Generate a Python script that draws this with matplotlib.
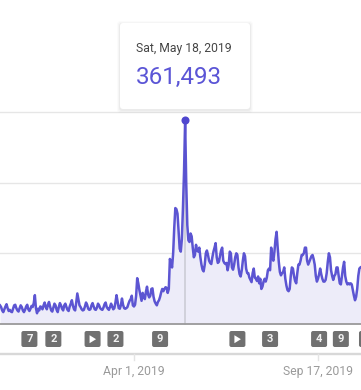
import matplotlib
matplotlib.use("Agg")
import matplotlib.pyplot as plt
import matplotlib.dates as mdates
from matplotlib.patches import FancyBboxPatch
import pandas as pd

visits_k = [
 33,30,24,21,26,31,35,28,23,25,
 22,21,27,33,34,28,24,22,28,33,
 30,24,21,25,31,34,26,23,27,32,
 30,37,51,28,19,27,24,31,30,26,
 33,38,30,26,34,39,31,24,22,29,
 36,33,25,21,30,37,33,27,24,33,
 36,30,25,23,31,36,42,32,26,24,
 38,54,44,33,30,26,24,25,31,38,
 34,27,25,26,33,37,31,26,25,29,
 36,33,28,26,25,29,35,38,30,27,
 25,30,36,31,26,28,38,51,40,28,
 27,33,45,34,28,27,28,30,36,41,
 44,50,33,31,34,50,81,72,60,50,
 41,55,48,44,57,66,52,47,50,62,
 63,48,40,36,33,39,42,48,56,62,
 58,62,65,64,55,62,115,108,100,125,
 170,205,203,195,165,133,128,150,205,270,
 361.493,250,175,148,145,160,155,135,118,122,
 140,130,128,135,118,105,96,93,105,125,
 130,122,112,108,106,118,128,135,143,118,
 108,110,120,130,135,112,108,106,108,95,
 105,128,125,100,96,105,118,125,122,100,
 88,84,95,112,125,120,98,90,90,82,
 78,74,90,98,82,80,76,84,72,80,
 62,66,75,80,75,82,95,98,95,135,
 118,112,128,150,163,135,110,92,86,90,
 92,100,80,68,60,58,62,85,100,98,
 85,76,72,90,105,105,112,122,122,125,
 135,135,112,105,110,115,120,122,115,105,
 85,75,80,88,98,88,80,75,75,78,
 90,110,125,118,95,85,78,85,88,100,
 100,85,72,70,85,100,110,85,75,70,
 72,70,72,70,60,50,42,48,62,85,98,100,
]
start_date = "2018-11-29"
grid_levels_k = [0, 125, 250, 375]
tick_dates = ["2019-04-01", "2019-09-17"]
tick_labels = ["Apr 1, 2019", "Sep 17, 2019"]
peak_date = "2019-05-18"
peak_label = "Sat, May 18, 2019"
peak_value_k = 361.493
peak_text = "361,493"
annotation_dates = ["2018-12-26", "2019-01-17", "2019-02-22", "2019-03-15", "2019-04-25",
                    "2019-07-05", "2019-08-04", "2019-09-18", "2019-10-08", "2019-11-01"]
annotation_marks = ["7", "2", "play", "2", "9", "play", "3", "4", "9", ""]

W, H = 361, 390
LINE = "#4f47cf"
plt.rcParams["font.family"] = ["Roboto", "DejaVu Sans"]
dates = pd.date_range(start_date, periods=len(visits_k), freq="D")

fig = plt.figure(figsize=(W / 100, H / 100), dpi=100, facecolor="white")
ax = fig.add_axes([0, 0, 1, 1])
ax.set_axis_off()
px_per_day = 1.089
k_per_px = 125 / 70.7
x0 = mdates.date2num(pd.Timestamp(start_date))
ax.set_xlim(x0, x0 + W / px_per_day)
ax.set_ylim(-(H - 324) * k_per_px, 324 * k_per_px)

for i, g in enumerate(grid_levels_k):
    ax.axhline(g, color="#9a9a9a" if g == 0 else "#e6e6e6", lw=1.3 if g == 0 else 1.0, zorder=1 if g else 5)
ax.fill_between(mdates.date2num(dates), visits_k, 0, color="#edecf9", lw=0, zorder=2)
peak_x = mdates.date2num(pd.Timestamp(peak_date))
ax.plot([peak_x, peak_x], [0, peak_value_k], color="#c9c9d2", lw=1.1, zorder=3)
ax.plot(mdates.date2num(dates), visits_k, color=LINE, lw=1.8, alpha=0.92, zorder=4, solid_joinstyle="round")
ax.plot([peak_x], [peak_value_k], "o", ms=5.8, color=LINE, mew=0, zorder=6)

# Pixel overlay for the chrome
ov = fig.add_axes([0, 0, 1, 1], facecolor="none")
ov.set_axis_off()
ov.set_xlim(0, W)
ov.set_ylim(H, 0)

px = lambda d: (mdates.date2num(pd.Timestamp(d)) - x0) * px_per_day

# x axis band and ticks
ov.plot([0, W], [354, 354], color="#d8d8d8", lw=1.7, solid_capstyle="butt")
for d, lab in zip(tick_dates, tick_labels):
    x = px(d)
    ov.plot([x, x], [354, 360], color="#e4e4e4", lw=1.0)
    ov.text(x, 371, lab, ha="center", va="center", fontsize=8.7, color="#9a9a9a")

# annotation chips
for d, m in zip(annotation_dates, annotation_marks):
    x = px(d)
    ov.add_patch(FancyBboxPatch((x - 7, 332), 14, 14, boxstyle="round,pad=1,rounding_size=2",
                                fc="#707070", ec="none", zorder=3))
    if m == "play":
        ov.fill([x - 3, x - 3, x + 3.5], [335.2, 343.2, 339.2], color="white", lw=0, zorder=4)
    elif m:
        ov.text(x, 339.3, m, ha="center", va="center", fontsize=8.0, fontweight="bold", color="#f2f2f2", zorder=4)

# tooltip
for off, a in [(3.0, 0.015), (2.0, 0.025), (1.0, 0.04)]:
    ov.add_patch(FancyBboxPatch((122 - off, 25 - off + 1), 126 + 2 * off, 82 + 2 * off,
                                boxstyle="round,pad=2,rounding_size=3", fc="black", ec="none", alpha=a, zorder=7))
ov.add_patch(FancyBboxPatch((122, 25), 126, 82, boxstyle="round,pad=2,rounding_size=3",
                            fc="white", ec="none", zorder=8))
ov.text(136, 48.5, peak_label, ha="left", va="center", fontsize=8.7, color="#454545", zorder=9)
ov.text(136, 77, peak_text, ha="left", va="center", fontsize=17.4, color="#5b55d6", zorder=9)

fig.savefig("out.png", dpi=100)
